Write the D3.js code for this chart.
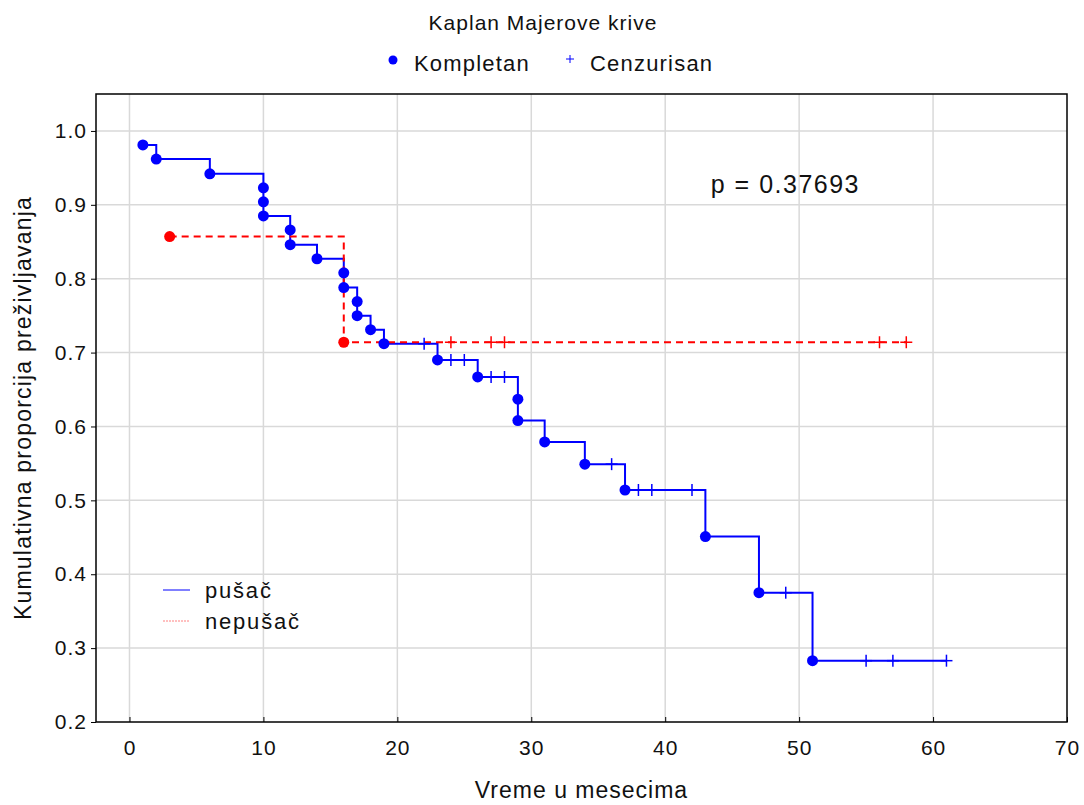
<!DOCTYPE html>
<html>
<head>
<meta charset="utf-8">
<script src="https://cdn.jsdelivr.net/npm/d3@7"></script>
<style>
  body { margin: 0; background: #fff; }
  text { font-family: "Liberation Sans", Arial, sans-serif; fill: #111; }
</style>
</head>
<body>
<div id="chart"></div>
<script>
// smokers (pušač): event times and survival after each event
const smokerTimes = [1, 2, 6, 10, 10, 10, 12, 12, 14, 16, 16, 17, 17, 18, 19, 23, 26, 29, 29, 31, 34, 37, 43, 47, 51];
const smokerSurv = [0.981, 0.962, 0.942, 0.923, 0.904, 0.885, 0.866, 0.846, 0.827, 0.808, 0.788, 0.769, 0.750, 0.731, 0.712, 0.690, 0.667, 0.637, 0.608, 0.579, 0.549, 0.514, 0.451, 0.375, 0.283];
const smokerCensored = [22, 24, 25, 27, 28, 36, 38, 39, 42, 49, 55, 57, 61];

// non-smokers (nepušač)
const nonSmokerTimes = [3, 16];
const nonSmokerSurv = [0.857, 0.714];
const nonSmokerCensored = [24, 27, 28, 56, 58];

const xTicks = [0, 10, 20, 30, 40, 50, 60, 70];
const yTicks = [0.2, 0.3, 0.4, 0.5, 0.6, 0.7, 0.8, 0.9, 1.0];

var svgWidth = 1084;
var svgHeight = 805;
var margin = { top: 94, right: 17, bottom: 83, left: 96 };
var width = svgWidth - margin.left - margin.right;
var height = svgHeight - margin.top - margin.bottom;

var svg = d3.select("#chart")
  .append("svg")
  .attr("width", svgWidth)
  .attr("height", svgHeight);

var chartGroup = svg.append("g")
  .attr("transform", `translate(${margin.left}, ${margin.top})`);

var xScale = d3.scaleLinear().domain([-2.5, 70]).range([0, width]);
var yScale = d3.scaleLinear().domain([0.2, 1.05]).range([height, 0]);

// grid
chartGroup.selectAll(".vgrid")
  .data(xTicks.filter(d => d < 70))
  .enter().append("line")
  .attr("x1", d => xScale(d)).attr("x2", d => xScale(d))
  .attr("y1", 0).attr("y2", height)
  .attr("stroke", "#d9d9d9").attr("stroke-width", 1.5);

chartGroup.selectAll(".hgrid")
  .data(yTicks.filter(d => d > 0.2))
  .enter().append("line")
  .attr("x1", 0).attr("x2", width)
  .attr("y1", d => yScale(d)).attr("y2", d => yScale(d))
  .attr("stroke", "#d9d9d9").attr("stroke-width", 1.5);

// axes
var bottomAxis = d3.axisBottom(xScale).tickValues(xTicks).tickSizeInner(-5).tickSizeOuter(0).tickPadding(18);
var leftAxis = d3.axisLeft(yScale).tickValues(yTicks).tickFormat(d3.format(".1f")).tickSizeInner(5).tickSizeOuter(0).tickPadding(4);

var xAxisG = chartGroup.append("g")
  .attr("transform", `translate(0, ${height})`)
  .call(bottomAxis);
var yAxisG = chartGroup.append("g").call(leftAxis);

[xAxisG, yAxisG].forEach(function(g) {
  g.select(".domain").remove();
  g.selectAll(".tick line").attr("stroke", "#000");
  g.selectAll(".tick text")
    .style("font-family", '"Liberation Sans", Arial, sans-serif')
    .style("font-size", "21px")
    .style("letter-spacing", "1px")
    .attr("fill", "#111");
});

// frame
chartGroup.append("rect")
  .attr("x", 0).attr("y", 0)
  .attr("width", width).attr("height", height)
  .attr("fill", "none").attr("stroke", "#000").attr("stroke-width", 1.5);

// step curves
function stepPoints(times, surv, lastTime) {
  var pts = [];
  times.forEach(function(t, i) {
    if (i + 1 < times.length && times[i + 1] === t) return;
    pts.push([t, surv[i]]);
  });
  pts.push([lastTime, surv[surv.length - 1]]);
  return pts;
}
function survAt(times, surv, t) {
  var s = surv[0];
  times.forEach(function(tt, i) { if (tt <= t) s = surv[i]; });
  return s;
}

var line = d3.line()
  .x(d => xScale(d[0]))
  .y(d => yScale(d[1]))
  .curve(d3.curveStepAfter);

var blue = "#0000ff", red = "#ff0000";

chartGroup.append("path")
  .datum(stepPoints(smokerTimes, smokerSurv, d3.max(smokerCensored)))
  .attr("d", line)
  .attr("fill", "none").attr("stroke", blue).attr("stroke-width", 2);

chartGroup.append("path")
  .datum(stepPoints(nonSmokerTimes, nonSmokerSurv, d3.max(nonSmokerCensored)))
  .attr("d", line)
  .attr("fill", "none").attr("stroke", red).attr("stroke-width", 2)
  .attr("stroke-dasharray", "7,5");

function drawCensored(times, evTimes, evSurv, color) {
  var g = chartGroup.append("g").attr("stroke", color).attr("stroke-width", 1.5);
  times.forEach(function(t) {
    var cx = xScale(t), cy = yScale(survAt(evTimes, evSurv, t));
    g.append("line").attr("x1", cx - 6).attr("x2", cx + 6).attr("y1", cy).attr("y2", cy);
    g.append("line").attr("x1", cx).attr("x2", cx).attr("y1", cy - 6).attr("y2", cy + 6);
  });
}
drawCensored(nonSmokerCensored, nonSmokerTimes, nonSmokerSurv, red);
drawCensored(smokerCensored, smokerTimes, smokerSurv, blue);

chartGroup.selectAll(".redDot")
  .data(nonSmokerTimes)
  .enter().append("circle")
  .attr("cx", d => xScale(d))
  .attr("cy", (d, i) => yScale(nonSmokerSurv[i]))
  .attr("r", 5.5).attr("fill", red);

chartGroup.selectAll(".blueDot")
  .data(smokerTimes)
  .enter().append("circle")
  .attr("cx", d => xScale(d))
  .attr("cy", (d, i) => yScale(smokerSurv[i]))
  .attr("r", 5.5).attr("fill", blue);

// p value
chartGroup.append("text")
  .attr("x", xScale(43.4)).attr("y", yScale(0.9) - 12)
  .style("font-size", "25px")
  .style("letter-spacing", "1.5px")
  .text("p = 0.37693");

// inner legend
var legend = [["pušač", blue, null], ["nepušač", "#ff8080", "2,1"]];
legend.forEach(function(d, i) {
  var ly = 496 + i * 31;
  chartGroup.append("line")
    .attr("x1", 67).attr("x2", 94).attr("y1", ly).attr("y2", ly)
    .attr("stroke", d[1]).attr("stroke-width", 1)
    .attr("stroke-dasharray", d[2]);
  chartGroup.append("text")
    .attr("x", 109).attr("y", ly + 8)
    .style("font-size", "22px")
    .style("letter-spacing", "1.8px")
    .text(d[0]);
});

// title and top legend
svg.append("text")
  .attr("x", 543).attr("y", 30)
  .attr("text-anchor", "middle")
  .style("font-size", "21px")
  .style("letter-spacing", "1px")
  .text("Kaplan Majerove krive");

svg.append("circle").attr("cx", 393).attr("cy", 60).attr("r", 4.5).attr("fill", blue);
svg.append("text").attr("x", 414).attr("y", 71).style("font-size", "22px").style("letter-spacing", "1.2px").text("Kompletan");
svg.append("line").attr("x1", 566).attr("x2", 574).attr("y1", 59).attr("y2", 59).attr("stroke", blue).attr("stroke-width", 1);
svg.append("line").attr("x1", 570).attr("x2", 570).attr("y1", 55).attr("y2", 63).attr("stroke", blue).attr("stroke-width", 1);
svg.append("text").attr("x", 590).attr("y", 71).style("font-size", "22px").style("letter-spacing", "1.2px").text("Cenzurisan");

// axis titles
svg.append("text")
  .attr("x", margin.left + width / 2).attr("y", 798)
  .attr("text-anchor", "middle")
  .style("font-size", "23px")
  .style("letter-spacing", "1px")
  .text("Vreme u mesecima");

svg.append("text")
  .attr("transform", `translate(31, ${margin.top + height / 2}) rotate(-90)`)
  .attr("text-anchor", "middle")
  .style("font-size", "23px")
  .style("letter-spacing", "1.2px")
  .text("Kumulativna proporcija preživljavanja");
</script>
</body>
</html>
